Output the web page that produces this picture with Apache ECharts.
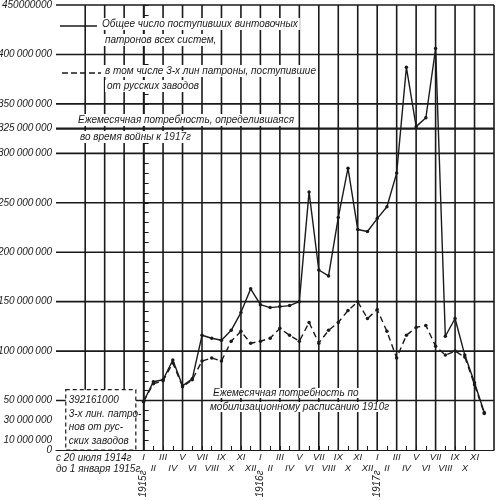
<!DOCTYPE html>
<html><head><meta charset="utf-8">
<script src="https://cdn.jsdelivr.net/npm/echarts@6/dist/echarts.min.js"></script>
<style>html,body{margin:0;padding:0;background:#fff}#c{width:500px;height:501px}</style>
</head><body><div id="c"></div>
<script>
// month index: 0 = January 1915 ... 35 = December 1917
const months = [0,1,2,3,4,5,6,7,8,9,10,11,12,13,14,15,16,17,18,19,20,21,22,23,24,25,26,27,28,29,30,31,32,33,34,35];
const romans = ['I','II','III','IV','V','VI','VII','VIII','IX','X','XI','XII'];
// values in millions of cartridges
const totalAll = [49,69,71,91,65,72,116,113,111,121,139,163,147,144,145,146,150,261,182,176,235,285,223,221,234,246,280,387,327,336,406,115,133,96,68,38];
const russian3line = [49,67,70,88,64,71,90,93,90,110,120,108,110,113,123,116,110,129,108,121,129,141,150,133,142,120,93,116,124,126,105,96,100,94,66,37];
const yLabelValues = [0,10,30,50,100,150,200,250,300,325,350,400,450];
const yLabelTexts = ['0','10\u2009000\u2009000','30\u2009000\u2009000','50\u2009000\u2009000','100\u2009000\u2009000','150\u2009000\u2009000','200\u2009000\u2009000','250\u2009000\u2009000','300\u2009000\u2009000','325\u2009000\u2009000','350\u2009000\u2009000','400\u2009000\u2009000','450000000'];
const hLines = [50,100,150,200,250,300,350,400,450];
const needLines = [325];
const vLines = [-6,-4,-2,0,2,4,6,8,10,12,14,16,18,20,22,24,26,28,30,32,34,36];
const preWarBox = [[-8, -0.8, 61]]; // x from, x to, height (axis units)
const preWarText = '392161000\n3-х лин. патро-\nнов от рус-\nских заводов';
const yearLabels = [['1915г',0],['1916г',12],['1917г',24]];

const X_MIN = -9, X_MAX = 36, Y_MIN = 0, Y_MAX = 450;
const F = "'Liberation Sans',sans-serif";
const INK = '#1a1a1a';
const chart = echarts.init(document.getElementById('c'));

function txt(text, x, y, size, opts) {
  return {
    type: 'text', x: x, y: y, z: 100,
    style: Object.assign({text: text, font: 'italic ' + (size||10) + 'px ' + F, fill: INK,
      textVerticalAlign: 'middle', backgroundColor: '#fff', padding: [1, 2]}, (opts||{}))
  };
}

// one line series per grid line, drawn through the axis scales
function gridSeries(p1, p2, w) {
  return {type: 'line', z: 1, silent: true, clip: false, symbol: 'none', animation: false,
    data: [p1, p2], lineStyle: {color: INK, width: w}, itemStyle: {color: INK}, tooltip: {show: false}};
}
const gridLineSeries = []
  .concat(hLines.map(v => gridSeries([X_MIN, v], [X_MAX, v], 1.6)))
  .concat(needLines.map(v => gridSeries([X_MIN, v], [X_MAX, v], 2.4)))
  .concat(vLines.map(v => gridSeries([v, Y_MIN], [v, Y_MAX], 1.6)));

const option = {
  animation: false,
  backgroundColor: '#fff',
  grid: {left: 56, right: 6, top: 5, bottom: 51, containLabel: false, outerBoundsMode: 'none'},
  xAxis: {
    type: 'value', min: X_MIN, max: X_MAX, interval: 1,
    axisLine: {lineStyle: {color: INK, width: 1.2}},
    axisTick: {show: true, inside: true, length: 4, customValues: months, lineStyle: {color: INK}},
    axisLabel: {customValues: months, margin: 2, color: INK, fontFamily: F, fontStyle: 'italic', fontSize: 9.5, lineHeight: 11,
      formatter: v => (v % 2 === 0 ? '' : '\n') + romans[((v % 12) + 12) % 12]},
    splitLine: {show: false}
  },
  yAxis: {
    type: 'value', min: Y_MIN, max: Y_MAX, interval: 10,
    axisLine: {show: true, lineStyle: {color: INK, width: 1.5}},
    axisTick: {show: true, inside: true, length: 5, lineStyle: {color: INK}},
    axisLabel: {customValues: yLabelValues, margin: 4, color: INK, fontFamily: F, fontStyle: 'italic', fontSize: 10,
      formatter: v => { const k = yLabelValues.indexOf(Math.round(v)); return k >= 0 ? yLabelTexts[k] : ''; }},
    splitLine: {show: false}
  },
  series: gridLineSeries.concat([
    {type: 'custom', z: 3, silent: true, data: preWarBox, encode: {x: [0, 1], y: 2},
      renderItem: (params, api) => {
        const p0 = api.coord([api.value(0), api.value(2)]);
        const p1 = api.coord([api.value(1), Y_MIN]);
        return {type: 'group', children: [
          {type: 'rect', shape: {x: p0[0], y: p0[1], width: p1[0] - p0[0], height: p1[1] - p0[1]},
            style: {fill: '#fff', stroke: INK, lineWidth: 1.2, lineDash: [4, 3]}},
          {type: 'text', x: p0[0] + 3, y: p0[1] + 4,
            style: {text: preWarText, font: 'italic 10px ' + F, fill: INK, lineHeight: 13.5, textAlign: 'left', textVerticalAlign: 'top'}}
        ]};
      }},
    {name: 'total', type: 'line', z: 5, data: months.map((m, i) => [m, totalAll[i]]),
      symbol: 'circle', symbolSize: 3.5, itemStyle: {color: INK}, lineStyle: {color: INK, width: 1.4}},
    {name: 'russian', type: 'line', z: 6, data: months.map((m, i) => [m, russian3line[i]]),
      symbol: 'circle', symbolSize: 3.5, itemStyle: {color: INK}, lineStyle: {color: INK, width: 1.4, type: [6, 4]}}
  ])
};
chart.setOption(option);

const texts = [
  {type: 'line', z: 100, shape: {x1: 60, y1: 26, x2: 97, y2: 26}, style: {stroke: INK, lineWidth: 1.6}},
  {type: 'line', z: 100, shape: {x1: 62, y1: 73, x2: 101, y2: 73}, style: {stroke: INK, lineWidth: 1.6, lineDash: [6, 3]}},
  txt('Общее число поступивших винтовочных', 100, 24),
  txt('патронов всех систем,', 103, 40),
  txt('в том числе 3-х лин патроны, поступившие', 103, 71),
  txt('от русских заводов', 105, 86),
  txt('Ежемесячная потребность, определившаяся', 76, 120),
  txt('во время войны к 1917г', 78, 137),
  txt('Ежемесячная потребность по', 211, 393, 10, {padding: [0, 2]}),
  txt('мобилизационному расписанию 1910г', 208, 407, 10, {padding: [0, 2]}),
  txt('с 20 июля 1914г', 56, 458, 10, {backgroundColor: null, padding: 0}),
  txt('до 1 января 1915г', 56, 469, 10, {backgroundColor: null, padding: 0})
];

// year labels placed at their month positions through the axis scale
const px = (x, y) => chart.convertToPixel({xAxisIndex: 0, yAxisIndex: 0}, [x, y]);
const years = yearLabels.map(([t, m]) => {
  const p = px(m, 0);
  return {type: 'text', z: 100, x: p[0], y: 484, rotation: Math.PI / 2,
    style: {text: t, font: 'italic 10px ' + F, fill: INK, textAlign: 'center', textVerticalAlign: 'middle'}};
});
const all = texts.concat(years).map((g, i) => Object.assign({id: 'g' + i}, g));
chart.setOption({graphic: all});
</script></body></html>
